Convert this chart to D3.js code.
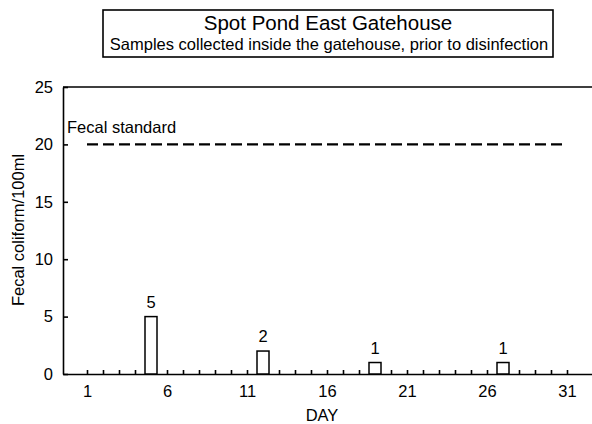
<!DOCTYPE html>
<html>
<head>
<meta charset="utf-8">
<script src="https://cdn.jsdelivr.net/npm/d3@7"></script>
<style>
  body { margin: 0; background: #fff; }
  svg { font-family: "Liberation Sans", Arial, sans-serif; }
  .axis path, .axis line { stroke: #000; stroke-width: 1.6px; }
  .axis text { font-size: 16.5px; fill: #000; font-family: "Liberation Sans", Arial, sans-serif; }
</style>
</head>
<body>
<div id="chart"></div>
<script>
// data
const days = [5, 12, 19, 27];
const counts = [5, 2, 1, 1];
const xTickLabels = [1, 6, 11, 16, 21, 26, 31];
const yTickValues = [0, 5, 10, 15, 20, 25];
const standardValue = 20;
const standardDays = [1, 31];
const title = `Spot Pond East Gatehouse`;
const subtitle = `Samples collected inside the gatehouse, prior to disinfection`;

const W = 592, H = 424;
const margin = {left: 63, top: 87, bottom: 50};

let svg = d3.select(`#chart`).append(`svg`)
  .attr(`width`, W)
  .attr(`height`, H);

// inner plot runs past the right edge like the scan
let width = 544;
let height = H - margin.top - margin.bottom;

let graph = svg.append(`g`)
  .attr(`transform`, `translate(` + margin.left + `,` + margin.top + `)`);

let x = d3.scaleLinear().domain([-0.5, 33.5]).range([0, width]);
let y = d3.scaleLinear().domain([0, 25]).range([height, 0]);

// frame top / right
graph.append(`path`)
  .attr(`d`, `M0,0H${width}V${height}`)
  .attr(`fill`, `none`)
  .attr(`stroke`, `#000`)
  .attr(`stroke-width`, 1.6);

// Y-axis
graph.append(`g`)
  .attr(`class`, `y axis`)
  .call(d3.axisLeft(y).tickValues(yTickValues).tickSizeInner(-5).tickSizeOuter(0).tickPadding(10));

// X-axis, a tick every day
graph.append(`g`)
  .attr(`class`, `x axis`)
  .attr(`transform`, `translate(0,` + height + `)`)
  .call(d3.axisBottom(x)
    .tickValues(d3.range(1, 32))
    .tickSizeInner(-4).tickSizeOuter(0).tickPadding(11)
    .tickFormat(d => xTickLabels.includes(d) ? d : ``));

graph.selectAll(`.axis .domain`).attr(`stroke-width`, 1.8);

// axis titles
svg.append(`text`)
  .attr(`x`, x(16) + margin.left - 5)
  .attr(`y`, 421)
  .attr(`text-anchor`, `middle`)
  .attr(`font-size`, 16.5)
  .text(`DAY`);

svg.append(`text`)
  .attr(`transform`, `translate(24,230) rotate(-90)`)
  .attr(`text-anchor`, `middle`)
  .attr(`font-size`, 16.5)
  .text(`Fecal coliform/100ml`);

// fecal standard
graph.append(`line`)
  .attr(`x1`, x(standardDays[0]))
  .attr(`x2`, x(standardDays[1]))
  .attr(`y1`, y(standardValue))
  .attr(`y2`, y(standardValue))
  .attr(`stroke`, `#000`)
  .attr(`stroke-width`, 2.4)
  .attr(`stroke-dasharray`, `11,5`);

graph.append(`text`)
  .attr(`x`, 4)
  .attr(`y`, y(standardValue) - 11)
  .attr(`font-size`, 16.5)
  .text(`Fecal standard`);

// bars
let data = days.map((d, i) => ({day: d, value: counts[i]}));
const barW = 12;

graph.append(`g`)
  .attr(`class`, `bars`)
  .selectAll(`rect`)
  .data(data)
  .enter()
  .append(`rect`)
  .attr(`x`, d => x(d.day) - barW / 2)
  .attr(`y`, d => y(d.value))
  .attr(`width`, barW)
  .attr(`height`, d => y(0) - y(d.value))
  .attr(`fill`, `#fff`)
  .attr(`stroke`, `#000`)
  .attr(`stroke-width`, 1.5);

graph.append(`g`)
  .selectAll(`text`)
  .data(data)
  .enter()
  .append(`text`)
  .attr(`x`, d => x(d.day))
  .attr(`y`, d => y(d.value) - 9)
  .attr(`text-anchor`, `middle`)
  .attr(`font-size`, 16.5)
  .text(d => d.value);

// title box
svg.append(`rect`)
  .attr(`x`, 103).attr(`y`, 10)
  .attr(`width`, 450).attr(`height`, 47)
  .attr(`fill`, `none`)
  .attr(`stroke`, `#000`)
  .attr(`stroke-width`, 1.6);

svg.append(`text`)
  .attr(`x`, 328).attr(`y`, 30)
  .attr(`text-anchor`, `middle`)
  .attr(`font-size`, 20.5)
  .text(title);

svg.append(`text`)
  .attr(`x`, 329).attr(`y`, 50)
  .attr(`text-anchor`, `middle`)
  .attr(`font-size`, 16.5)
  .text(subtitle);
</script>
</body>
</html>
